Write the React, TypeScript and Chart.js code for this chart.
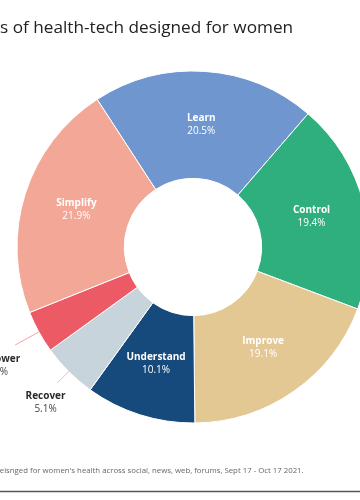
import React, { useEffect, useRef } from 'react';
import { Chart, registerables } from 'chart.js';

Chart.register(...registerables);

const categories = ['Learn', 'Control', 'Improve', 'Understand', 'Recover', 'Empower', 'Simplify'];
const shares = [20.5, 19.4, 19.1, 10.1, 5.1, 3.9, 21.9];
const sliceColors = ['#6F96CE', '#2FAF7E', '#E4C894', '#174A7C', '#C8D4DC', '#EC5B65', '#F3A797'];
const outsideCategories = ['Recover', 'Empower'];
const titleText = 's of health-tech designed for women';
const footnoteText = "deisnged for women's health across social, news, web, forums, Sept 17 - Oct 17 2021.";

const SHIFT = 60; // canvas starts 60px left of the viewport
const FONT = '"Open Sans", "DejaVu Sans", sans-serif';

const outsideGap: Record<string, number> = { Recover: 37, Empower: 56 };
const outsideNudge: Record<string, [number, number]> = { Recover: [3, 5], Empower: [7, 7] };
const leaderSpan: Record<string, [number, number, string]> = {
  Recover: [-6, 16, '#DCC3C8'],
  Empower: [0, 27, '#F4A3AA'],
};

const labelPlugin = {
  id: 'labelPlugin',
  afterDatasetsDraw(chart: any) {
    const ctx = chart.ctx as CanvasRenderingContext2D;
    const meta = chart.getDatasetMeta(0);
    ctx.save();
    meta.data.forEach((arc: any, i: number) => {
      const p = arc.getProps(['x', 'y', 'startAngle', 'endAngle', 'innerRadius', 'outerRadius'], true);
      const mid = (p.startAngle + p.endAngle) / 2;
      const c = Math.cos(mid);
      const s = Math.sin(mid);
      const name = categories[i];
      const pct = shares[i].toFixed(1) + '%';
      const outside = outsideCategories.includes(name);
      let lx: number;
      let ly: number;
      let nameColor = '#FFFFFF';
      let pctColor = '#FFFFFF';
      if (outside) {
        const r = p.outerRadius + outsideGap[name];
        const [nx, ny] = outsideNudge[name];
        lx = p.x + c * r + nx;
        ly = p.y + s * r + ny;
        nameColor = '#2A2A2A';
        pctColor = '#444444';
        const [a, b, col] = leaderSpan[name];
        ctx.strokeStyle = col;
        ctx.lineWidth = 1;
        ctx.beginPath();
        ctx.moveTo(p.x + c * (p.outerRadius + a), p.y + s * (p.outerRadius + a));
        ctx.lineTo(p.x + c * (p.outerRadius + b), p.y + s * (p.outerRadius + b));
        ctx.stroke();
      } else {
        const r = (p.innerRadius + p.outerRadius) / 2;
        lx = p.x + c * r;
        ly = p.y + s * r;
      }
      ctx.textAlign = 'center';
      ctx.textBaseline = 'middle';
      ctx.fillStyle = nameColor;
      ctx.font = `bold 10px ${FONT}`;
      ctx.fillText(name, lx, ly - 6.5);
      ctx.fillStyle = pctColor;
      ctx.font = `10px ${FONT}`;
      ctx.fillText(pct, lx, ly + 6.5);
    });

    // title
    ctx.textAlign = 'left';
    ctx.textBaseline = 'middle';
    ctx.fillStyle = '#222222';
    ctx.font = `17.2px ${FONT}`;
    ctx.fillText(titleText, SHIFT + 0, 28);

    // footnote
    ctx.fillStyle = '#666666';
    ctx.font = `7.8px ${FONT}`;
    ctx.fillText(footnoteText, SHIFT - 5, 471);

    // bottom rule
    ctx.strokeStyle = '#555555';
    ctx.lineWidth = 1.5;
    ctx.beginPath();
    ctx.moveTo(0, 491.5);
    ctx.lineTo(chart.width, 491.5);
    ctx.stroke();
    ctx.restore();
  },
};

export default function App() {
  const canvasRef = useRef<HTMLCanvasElement | null>(null);

  useEffect(() => {
    if (!canvasRef.current) return;
    const chart = new Chart(canvasRef.current, {
      type: 'doughnut',
      data: {
        labels: categories,
        datasets: [
          {
            data: shares,
            backgroundColor: sliceColors,
            borderColor: '#FFFFFF',
            borderWidth: 1,
          },
        ],
      },
      options: {
        responsive: false,
        animation: false,
        rotation: -33,
        radius: 176,
        cutout: '39%',
        layout: { padding: { left: 77, right: 11, top: 71, bottom: 77 } },
        plugins: {
          legend: { display: false },
          tooltip: { enabled: false },
        },
      },
      plugins: [labelPlugin],
    });
    return () => chart.destroy();
  }, []);

  return (
    <div
      style={{
        position: 'fixed',
        left: 0,
        top: 0,
        width: 360,
        height: 500,
        overflow: 'hidden',
        background: '#FFFFFF',
      }}
    >
      <canvas
        ref={canvasRef}
        width={440}
        height={500}
        style={{ position: 'absolute', left: -SHIFT, top: 0, width: 440, height: 500 }}
      />
    </div>
  );
}
